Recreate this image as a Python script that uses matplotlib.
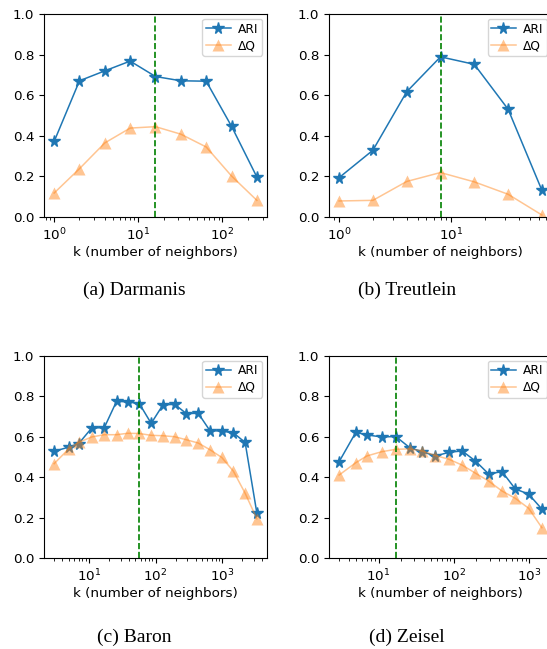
import matplotlib
matplotlib.use("Agg")
import matplotlib.pyplot as plt

# neighbourhood sizes per dataset
k_darmanis = [1, 2, 4, 8, 16, 32, 64, 128, 256]
k_treutlein = [1, 2, 4, 8, 16, 32, 64]
k_baron = [3, 5, 7, 11, 17, 26, 38, 57, 86, 129, 194, 291, 437, 656, 985, 1477, 2216, 3325]
k_zeisel = [3, 5, 7, 11, 17, 26, 38, 57, 86, 129, 194, 291, 437, 656, 985, 1477]

ari_darmanis = [0.372, 0.671, 0.720, 0.768, 0.692, 0.671, 0.669, 0.447, 0.197]
dq_darmanis = [0.118, 0.238, 0.365, 0.438, 0.445, 0.408, 0.345, 0.202, 0.082]

ari_treutlein = [0.194, 0.329, 0.617, 0.789, 0.752, 0.531, 0.132]
dq_treutlein = [0.079, 0.082, 0.175, 0.219, 0.173, 0.112, 0.010]

ari_baron = [0.528, 0.549, 0.566, 0.643, 0.645, 0.775, 0.772, 0.764, 0.666,
             0.757, 0.760, 0.714, 0.716, 0.630, 0.628, 0.619, 0.572, 0.223]
dq_baron = [0.467, 0.541, 0.572, 0.599, 0.610, 0.610, 0.617, 0.616, 0.607,
            0.605, 0.600, 0.585, 0.569, 0.536, 0.498, 0.430, 0.321, 0.195]

ari_zeisel = [0.477, 0.622, 0.609, 0.599, 0.601, 0.546, 0.526, 0.505,
              0.523, 0.530, 0.480, 0.416, 0.428, 0.342, 0.317, 0.243]
dq_zeisel = [0.411, 0.472, 0.505, 0.526, 0.538, 0.540, 0.530, 0.507,
             0.489, 0.460, 0.420, 0.381, 0.332, 0.296, 0.247, 0.151]

# chosen k for each dataset (dashed marker line)
k_best = [16, 8, 57, 17]
captions = ["(a) Darmanis", "(b) Treutlein", "(c) Baron", "(d) Zeisel"]

panels = [
    (k_darmanis, ari_darmanis, dq_darmanis),
    (k_treutlein, ari_treutlein, dq_treutlein),
    (k_baron, ari_baron, dq_baron),
    (k_zeisel, ari_zeisel, dq_zeisel),
]

FW, FH = 547, 649
fig = plt.figure(figsize=(FW / 100, FH / 100), dpi=100)
plt.rcParams["font.family"] = "DejaVu Sans"

# axes boxes in pixels: left, top, bottom
boxes = [(44, 14, 217), (329, 14, 217), (44, 355.7, 558.3), (329, 355.7, 558.3)]
AW = 223
caption_pos = [(134, 290), (407, 290), (134, 637), (407, 637)]

fs = 9.7
for (ks, ari, dq), (l, t, b), kb, cap, (cx, cy) in zip(panels, boxes, k_best, captions, caption_pos):
    ax = fig.add_axes([l / FW, (FH - b) / FH, AW / FW, (b - t) / FH])
    ax.plot(ks, ari, "-*", color="#1f77b4", lw=1.1, ms=8.5, label="ARI")
    ax.plot(ks, dq, "-^", color="#ff7f0e", lw=1.1, ms=8.5, alpha=0.45, mec="none", label="ΔQ")
    ax.axvline(kb, color="green", ls="--", lw=1.2)
    ax.set_xscale("log")
    ax.set_ylim(0, 1.0)
    ax.set_yticks([0, 0.2, 0.4, 0.6, 0.8, 1.0])
    ax.tick_params(labelsize=fs, width=0.8)
    ax.set_xlabel("k (number of neighbors)", fontsize=fs, labelpad=2)
    ax.legend(loc="upper right", fontsize=8.8, handlelength=2.0, borderpad=0.3,
              labelspacing=0.3, handletextpad=0.6, borderaxespad=0.4)
    fig.text(cx / FW, (FH - cy) / FH, cap, ha="center", va="center",
             fontsize=14, family="Liberation Serif")

fig.savefig("out.png", dpi=100)
